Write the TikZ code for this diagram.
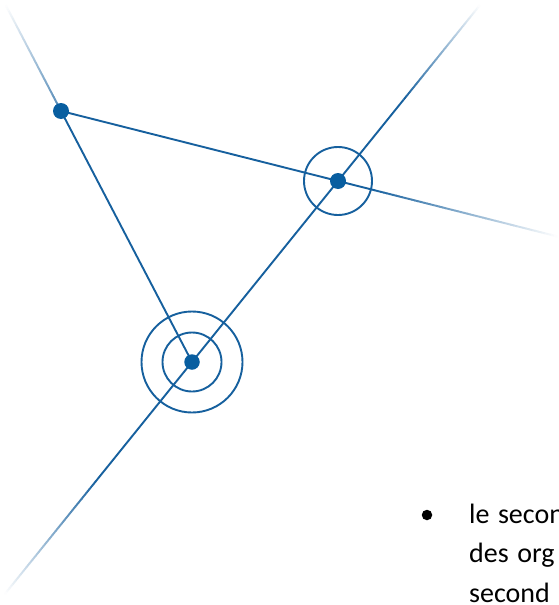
\documentclass[tikz,border=0pt]{standalone}
\usepackage{fontspec}
\setmainfont{Carlito}
\usetikzlibrary{calc}
\definecolor{lb}{RGB}{22,96,158}
\definecolor{db}{RGB}{8,94,160}
\tikzset{
  ln/.style={line width=1.9pt, draw=lb, line cap=butt},
  ring/.style={line width=1.9pt, draw=lb},
  dot/.style={circle, fill=db, inner sep=0pt, minimum size=16pt},
  txt/.style={anchor=base west, inner sep=0pt, font=\fontsize{28}{39}\selectfont},
}
\newcommand\fadeline[3]{% from, to, start intensity
  \foreach \i in {0,...,59}{
    \pgfmathsetmacro\ta{\i/60}
    \pgfmathsetmacro\tb{(\i+1.15)/60}
    \pgfmathtruncatemacro\cc{#3*(1-\i/60)}
    \draw[ln, draw=lb!\cc!white] ($(#1)!\ta!(#2)$) -- ($(#1)!\tb!(#2)$);
  }}
\begin{document}
\begin{tikzpicture}[x=1pt,y=-1pt]
\useasboundingbox (0,0) rectangle (559,605);
\clip (0,0) rectangle (559,605);
\fill[white] (0,0) rectangle (559,605);
% points
\coordinate (A) at (61,111);
\coordinate (B) at (338,181);
\coordinate (C) at (192,362);
% line ends
\coordinate (E1) at ($(C)!1.42!(A)$);
\coordinate (E2) at ($(A)!1.79!(B)$);
\coordinate (E3) at ($(C)!1.97!(B)$);
\coordinate (E4) at ($(B)!2.28!(C)$);
\coordinate (F2) at ($(A)!1.12!(B)$);
\coordinate (F3) at ($(C)!1.45!(B)$);
\coordinate (F4) at ($(B)!1.65!(C)$);
% solid lines
\draw[ln] (A) -- (B) -- (F2);
\draw[ln] (A) -- (C);
\draw[ln] (F4) -- (C) -- (B) -- (F3);
% fading extensions
\fadeline{A}{E1}{75}
\fadeline{F2}{E2}{100}
\fadeline{F3}{E3}{100}
\fadeline{F4}{E4}{100}
% rings
\draw[ring] (B) circle[radius=34];
\draw[ring] (C) circle[radius=29.5];
\draw[ring] (C) circle[radius=50.5];
% dots
\node[dot] (a) at (A) {};
\node[dot] (b) at (B) {};
\node[dot, minimum size=15.5pt] (c) at (C) {};
% text
\node[circle, fill=black, inner sep=0pt, minimum size=10.5pt] (bul) at (427,515) {};
\node[txt] (t1) at (469,523) {\spaceskip=8.5pt le secon};
\node[txt] (t2) at (469,562.5) {\spaceskip=8.5pt des org};
\node[txt] (t3) at (469,602) {second};
\end{tikzpicture}
\end{document}
